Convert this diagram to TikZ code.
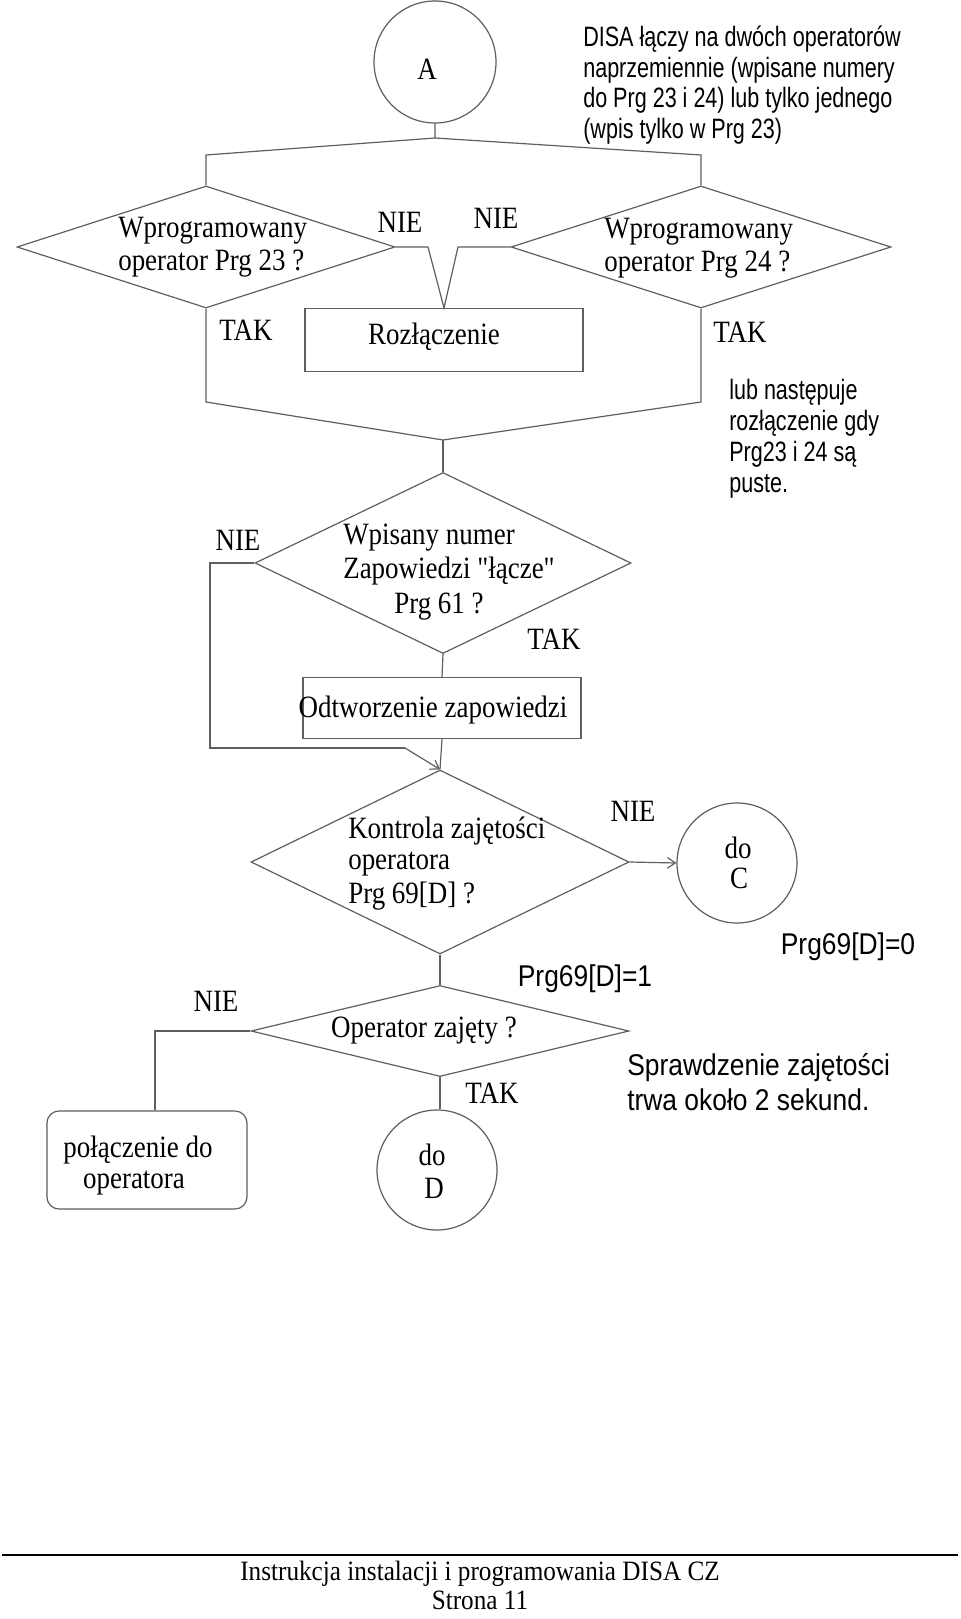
\documentclass[tikz,border=0pt]{standalone}
\usepackage{fontspec}
\usetikzlibrary{shapes.geometric,arrows.meta}
\newfontfamily\serifn[FakeStretch=0.87,Ligatures=TeXOff]{Liberation Serif}
\newfontfamily\serifm[FakeStretch=0.9]{Liberation Serif}
\newfontfamily\sansa[FakeStretch=0.77]{Liberation Sans}
\newfontfamily\sansb[FakeStretch=0.88]{Liberation Sans}
\definecolor{lc}{RGB}{95,95,95}
\tikzset{
 ln/.style={draw=lc, line width=0.9pt},
 dia/.style={diamond, draw=lc, line width=0.9pt, inner sep=0pt},
 boxn/.style={rectangle, draw=lc, line width=0.9pt, inner sep=0pt},
 circ/.style={circle, draw=lc, line width=0.9pt, inner sep=0pt},
 st/.style={inner sep=0pt, yshift=-3pt, font=\serifn\fontsize{23.25}{28}\selectfont},
 sa/.style={inner sep=0pt, yshift=-2.25pt, font=\sansa\fontsize{21}{25}\selectfont},
 sb/.style={inner sep=0pt, yshift=-2.25pt, font=\sansb\fontsize{22.5}{27}\selectfont},
 ft/.style={inner sep=0pt, font=\serifm\fontsize{21}{21.75}\selectfont},
 arr/.style={-{Straight Barb[length=6pt,width=8pt]}},
}
\begin{document}
\begin{tikzpicture}[x=0.75pt,y=-0.75pt]
\useasboundingbox[fill=white] (0,0) rectangle (960,1619);
% shapes
\node[circ, minimum size=91.5pt] (A) at (435,62) {};
\node[dia, minimum width=283.5pt, minimum height=91.5pt] (d23) at (206,247) {};
\node[dia, minimum width=285pt, minimum height=91.5pt] (d24) at (701,247) {};
\node[boxn, minimum width=208.5pt, minimum height=47.25pt] (roz) at (444,340) {};
\node[dia, minimum width=282pt, minimum height=135.75pt] (d61) at (443,563) {};
\node[boxn, minimum width=208.5pt, minimum height=45.75pt] (odt) at (442,708) {};
\node[dia, minimum width=283.5pt, minimum height=138pt] (dk) at (440,862) {};
\node[circ, minimum size=90pt] (C) at (737,863) {};
\node[dia, minimum width=283.5pt, minimum height=68.25pt] (dop) at (440,1031) {};
\node[boxn, rounded corners=9pt, minimum width=150pt, minimum height=73.5pt] (pol) at (147,1160) {};
\node[circ, minimum size=90pt] (D) at (437,1170) {};
% connectors
\coordinate (j0) at (435,138);
\coordinate (jl) at (206,155);
\coordinate (jr) at (701,155);
\draw[ln] (A.south) -- (j0) -- (jl) -- (d23.north);
\draw[ln] (j0) -- (jr) -- (d24.north);
\coordinate (v1) at (428,247);
\coordinate (v2) at (458,247);
\draw[ln] (d23.east) -- (v1) -- (roz.north) -- (v2) -- (d24.west);
\coordinate (ml) at (206,402);
\coordinate (mr) at (701,402);
\coordinate (mm) at (443,440);
\draw[ln] (d23.south) -- (ml) -- (mm) -- (mr) -- (d24.south);
\draw[ln] (mm) -- (d61.north);
\coordinate (n1) at (210,563);
\coordinate (n2) at (210,748);
\coordinate (n3) at (405,748);
\draw[ln] (d61.west) -- (n1) -- (n2) -- (n3);
\draw[ln,arr] (n3) -- (dk.north);
\draw[ln] (d61.south) -- (odt.north);
\draw[ln] (odt.south) -- (dk.north);
\draw[ln,arr] (dk.east) -- (C.west);
\draw[ln] (dk.south) -- (dop.north);
\coordinate (p1) at (155,1031);
\draw[ln] (dop.west) -- (p1) -- (p1 |- pol.north);
\draw[ln] (dop.south) -- (dop.south |- D.north);
% texts
\node[st] (tA) at (427,65) {A};
\node[sa, anchor=west] (s1) at (583,36) {DISA łączy na dwóch operatorów};
\node[sa, anchor=west] (s2) at (583,67) {naprzemiennie (wpisane numery};
\node[sa, anchor=west] (s3) at (583,97) {do Prg 23 i 24) lub tylko jednego};
\node[sa, anchor=west] (s4) at (583,128) {(wpis tylko w Prg 23)};
\node[st, anchor=west] (t23a) at (118,227) {Wprogramowany};
\node[st, anchor=west] (t23b) at (118,260) {operator Prg 23 ?};
\node[st, anchor=west] (t24a) at (604,228) {Wprogramowany};
\node[st, anchor=west] (t24b) at (604,261) {operator Prg 24 ?};
\node[st] (nie1) at (400,218) {NIE};
\node[st] (nie2) at (496,214) {NIE};
\node[st] (tak1) at (246,326) {TAK};
\node[st] (tak2) at (740,328) {TAK};
\node[st] (troz) at (434,333) {Rozłączenie};
\node[sa, anchor=west] (l1) at (729,389) {lub następuje};
\node[sa, anchor=west] (l2) at (729,420) {rozłączenie gdy};
\node[sa, anchor=west] (l3) at (729,451) {Prg23 i 24 są};
\node[sa, anchor=west] (l4) at (729,483) {puste.};
\node[st, anchor=west] (t61a) at (343,534) {Wpisany numer};
\node[st, anchor=west] (t61b) at (343,567) {Zapowiedzi "łącze"};
\node[st, anchor=west] (t61c) at (394,603) {Prg 61 ?};
\node[st] (nie3) at (238,536) {NIE};
\node[st] (tak3) at (554,635) {TAK};
\node[st] (todt) at (433,706) {Odtworzenie zapowiedzi};
\node[st, anchor=west] (tka) at (348,827) {Kontrola zajętości};
\node[st, anchor=west] (tkb) at (348,860) {operatora};
\node[st, anchor=west] (tkc) at (348,892) {Prg 69[D] ?};
\node[st] (nie4) at (633,807) {NIE};
\node[st] (tCa) at (738,844) {do};
\node[st] (tCb) at (739,874) {C};
\node[sb] (p0) at (848,944) {Prg69[D]=0};
\node[sb] (p1t) at (585,976) {Prg69[D]=1};
\node[st] (top) at (424,1027) {Operator zajęty ?};
\node[st] (nie5) at (216,997) {NIE};
\node[st] (tak5) at (492,1089) {TAK};
\node[st] (tpa) at (138,1146) {połączenie do};
\node[st] (tpb) at (134,1179) {operatora};
\node[st] (tDa) at (432,1151) {do};
\node[st] (tDb) at (434,1184) {D};
\node[sb, anchor=west] (sp1) at (627,1065) {Sprawdzenie zajętości};
\node[sb, anchor=west] (sp2) at (627,1097) {trwa około 2 sekund.};
% footer
\coordinate (f1) at (2,1555);
\coordinate (f2) at (958,1555);
\draw[line width=0.9pt, black] (f1) -- (f2);
\node[ft, align=center, anchor=south] (fa) at (480,1610) {Instrukcja instalacji i programowania DISA CZ\\Strona 11};
\end{tikzpicture}
\end{document}
